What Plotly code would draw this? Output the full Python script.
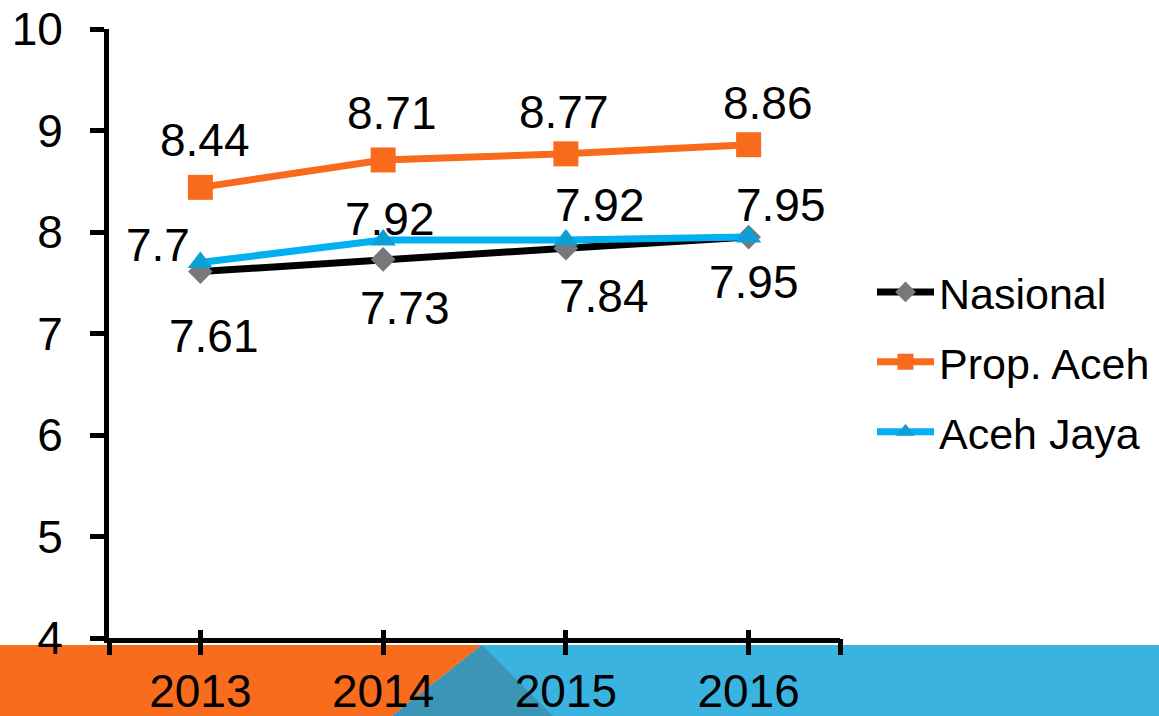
import plotly.graph_objects as go

years = ["2013", "2014", "2015", "2016"]
nasional = [7.61, 7.73, 7.84, 7.95]
prop_aceh = [8.44, 8.71, 8.77, 8.86]
aceh_jaya = [7.7, 7.92, 7.92, 7.95]
y_ticks = [4, 5, 6, 7, 8, 9, 10]

# label offsets (pixels) for data labels, per series
nas_dx = [14, 22, 38, 5]
nas_dy = [-64, -49, -48, -45]
pa_dx = [5, 9, -2, 19]
pa_dy = [47, 47, 42, 42]
aj_dx = [-42, 7, 34, 32]
aj_dy = [17, 21, 35, 32]

FONT = "Liberation Sans"
idx = list(range(len(years)))

fig = go.Figure()
fig.add_trace(go.Scatter(
    x=idx, y=nasional, name="Nasional", mode="lines+markers",
    line=dict(color="#000000", width=7),
    marker=dict(symbol="diamond", size=19, color="#77787C", line=dict(width=0)),
    legendgroup="a"))
fig.add_trace(go.Scatter(
    x=idx, y=prop_aceh, name="Prop. Aceh", mode="lines+markers",
    line=dict(color="#F86A1C", width=7),
    marker=dict(symbol="square", size=25, color="#F86A1C", line=dict(width=0)),
    legendgroup="b"))
fig.add_trace(go.Scatter(
    x=idx, y=aceh_jaya, name="Aceh Jaya", mode="lines+markers",
    line=dict(color="#00B0F0", width=7),
    marker=dict(symbol="triangle-up", size=22, color="#0E9ED6", line=dict(width=0)),
    legendgroup="c"))

anns = []
for vals, dxs, dys in [(nasional, nas_dx, nas_dy), (prop_aceh, pa_dx, pa_dy), (aceh_jaya, aj_dx, aj_dy)]:
    for i, v in enumerate(vals):
        anns.append(dict(x=i, y=v, xref="x", yref="y", text=f"{v:g}", showarrow=False,
                         xshift=dxs[i], yshift=dys[i], xanchor="center", yanchor="middle",
                         font=dict(family=FONT, size=46, color="#000000")))

# plot-area pixel geometry
L, R, T, B = 109, 840, 29, 638
W_, H_ = R - L, B - T
def px(xp):
    return (xp - L) / W_
def py(yp):
    return (B - yp) / H_

band_top, band_bot = 645, 716
peak, foot_l, foot_r = 482, 392, 553
shapes = [
    dict(type="path", xref="paper", yref="paper", layer="below", line=dict(width=0),
         fillcolor="#F96B1D",
         path=f"M{px(0)},{py(band_top)} L{px(peak)},{py(band_top)} L{px(foot_l)},{py(band_bot)} L{px(0)},{py(band_bot)} Z"),
    dict(type="path", xref="paper", yref="paper", layer="below", line=dict(width=0),
         fillcolor="#3AB3E0",
         path=f"M{px(peak)},{py(band_top)} L{px(1159)},{py(band_top)} L{px(1159)},{py(band_bot)} L{px(foot_l)},{py(band_bot)} Z"),
    dict(type="path", xref="paper", yref="paper", layer="below", line=dict(width=0),
         fillcolor="#3A96B4",
         path=f"M{px(peak)},{py(band_top)} L{px(foot_r)},{py(band_bot)} L{px(foot_l)},{py(band_bot)} Z"),
]

tickpos = [-0.5] + idx + [len(years) - 0.5]
ticktext = [""] + years + [""]

fig.update_layout(
    width=1159, height=716,
    margin=dict(l=L, r=1159 - R, t=T, b=716 - B, autoexpand=False),
    paper_bgcolor="white", plot_bgcolor="white",
    font=dict(family=FONT, color="#000000"),
    showlegend=True,
    legend=dict(x=px(872), y=py(362), xanchor="left", yanchor="middle",
                font=dict(family=FONT, size=43), itemwidth=57,
                tracegroupgap=11, traceorder="grouped", bgcolor="rgba(0,0,0,0)"),
    xaxis=dict(range=[-0.5, len(years) - 0.5], tickvals=tickpos, ticktext=ticktext,
               showline=True, linecolor="#000000", linewidth=5,
               ticks="inside", ticklen=8, tickwidth=5, tickcolor="#000000",
               showgrid=False, zeroline=False,
               tickfont=dict(family=FONT, size=46), ticklabelstandoff=9),
    xaxis2=dict(overlaying="x", matches="x", range=[-0.5, len(years) - 0.5],
                tickvals=tickpos, ticks="outside", ticklen=16, tickwidth=5,
                tickcolor="#000000", showticklabels=False, showgrid=False,
                zeroline=False, showline=False, side="bottom"),
    yaxis=dict(range=[4, 10], tickvals=y_ticks,
               showline=True, linecolor="#000000", linewidth=5,
               ticks="outside", ticklen=14, tickwidth=5, tickcolor="#000000",
               showgrid=False, zeroline=False,
               tickfont=dict(family=FONT, size=46), ticklabelstandoff=18),
    annotations=anns,
    shapes=shapes,
)
# dummy trace to activate xaxis2
fig.add_trace(go.Scatter(x=[None], y=[None], xaxis="x2", yaxis="y", showlegend=False, hoverinfo="skip"))

fig.write_html("out.html", config={"displayModeBar": False},
               post_script="document.body.style.margin='0px';document.body.style.overflow='hidden';")
